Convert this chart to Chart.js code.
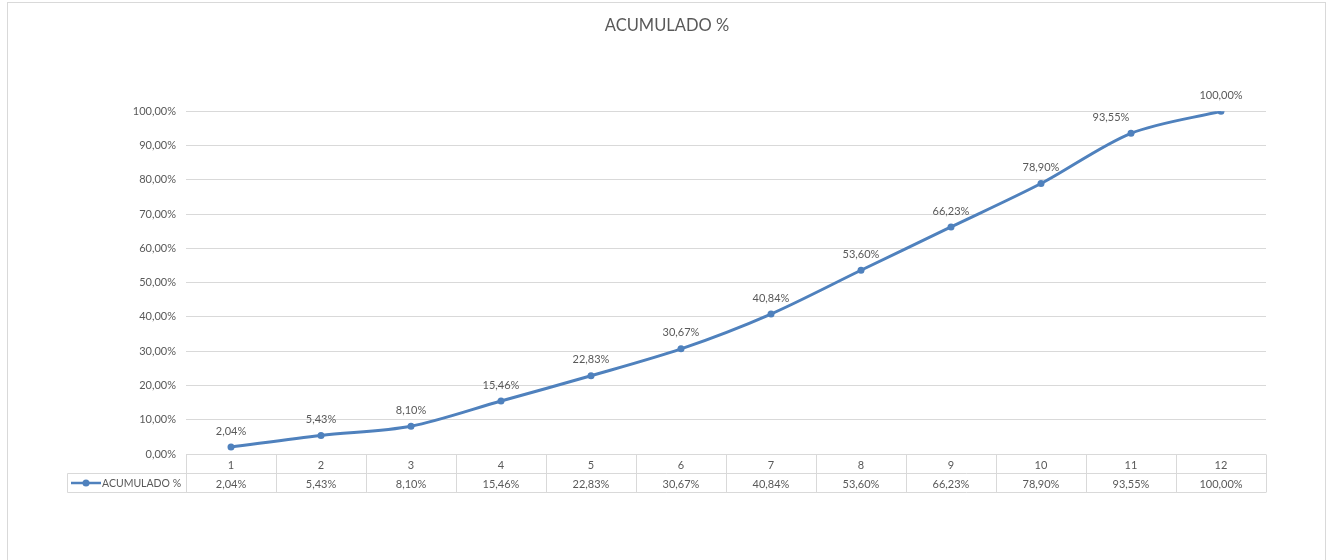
<!DOCTYPE html>
<html>
<head>
<meta charset="utf-8">
<script src="https://cdn.jsdelivr.net/npm/chart.js@4/dist/chart.umd.min.js"></script>
<style>
html,body{margin:0;padding:0;background:#fff;}
#wrap{width:1329px;height:560px;position:relative;}
</style>
</head>
<body>
<div id="wrap"><canvas id="c" width="1329" height="560"></canvas></div>
<script>
const categories = ['1','2','3','4','5','6','7','8','9','10','11','12'];
const seriesName = 'ACUMULADO %';
const chartTitle = 'ACUMULADO %';
const values = [2.04, 5.43, 8.10, 15.46, 22.83, 30.67, 40.84, 53.60, 66.23, 78.90, 93.55, 100.00];
const yTicks = [0,10,20,30,40,50,60,70,80,90,100];

const FONT = 'Lato, "Open Sans", sans-serif';
const TXT = '#595959';
const GRID = '#d9d9d9';
const BLUE = '#4f81bd';
const fmt = v => v.toFixed(2).replace('.', ',') + '%';

const extras = {
  id: 'extras',
  beforeDraw(chart) {
    const ctx = chart.ctx;
    ctx.save();
    ctx.fillStyle = '#fff';
    ctx.fillRect(0, 0, chart.width, chart.height);
    ctx.strokeStyle = '#d9d9d9';
    ctx.lineWidth = 1;
    ctx.strokeRect(7.5, 2.5, 1318, 620);
    // title
    ctx.fillStyle = TXT;
    ctx.font = '16.5px ' + FONT;
    ctx.textAlign = 'center';
    ctx.textBaseline = 'middle';
    ctx.fillText(chartTitle, 667, 26);
    ctx.restore();
  },
  afterDatasetsDraw(chart) {
    const ctx = chart.ctx;
    const meta = chart.getDatasetMeta(0);
    const ca = chart.chartArea;
    const x = chart.scales.x;
    ctx.save();
    // data labels (label next to a steep rising segment is nudged left, like the original)
    ctx.font = '11px ' + FONT;
    ctx.fillStyle = TXT;
    ctx.textAlign = 'center';
    ctx.textBaseline = 'middle';
    meta.data.forEach((p, i) => {
      const dx = (i === meta.data.length - 2) ? -20 : 0;
      ctx.fillText(fmt(values[i]), p.x + dx, p.y - 16);
    });
    // data table
    const n = categories.length;
    const colW = (ca.right - ca.left) / n;
    const r0 = Math.round(ca.bottom) + 0.5;
    const r1 = r0 + 19;
    const r2 = r1 + 19;
    const legL = 67.5;
    ctx.strokeStyle = GRID;
    ctx.lineWidth = 1;
    ctx.beginPath();
    ctx.moveTo(ca.left, r0); ctx.lineTo(ca.right, r0);
    ctx.moveTo(legL, r1); ctx.lineTo(ca.right, r1);
    ctx.moveTo(legL, r2); ctx.lineTo(ca.right, r2);
    ctx.moveTo(legL, r1); ctx.lineTo(legL, r2);
    for (let i = 0; i <= n; i++) {
      const xx = Math.round(ca.left + i * colW) + 0.5;
      ctx.moveTo(xx, r0); ctx.lineTo(xx, r2);
    }
    ctx.stroke();
    ctx.fillStyle = TXT;
    ctx.font = '11px ' + FONT;
    for (let i = 0; i < n; i++) {
      const cx = x.getPixelForValue(i);
      ctx.fillText(categories[i], cx, (r0 + r1) / 2 + 1);
      ctx.fillText(fmt(values[i]), cx, (r1 + r2) / 2 + 1);
    }
    // legend key
    const ly = (r1 + r2) / 2;
    ctx.strokeStyle = BLUE;
    ctx.lineWidth = 2.5;
    ctx.beginPath();
    ctx.moveTo(71, ly); ctx.lineTo(101, ly);
    ctx.stroke();
    ctx.fillStyle = BLUE;
    ctx.beginPath();
    ctx.arc(86, ly, 3.5, 0, Math.PI * 2);
    ctx.fill();
    ctx.fillStyle = TXT;
    ctx.font = '10.5px ' + FONT;
    ctx.textAlign = 'left';
    ctx.fillText(seriesName, 102, ly + 1);
    ctx.restore();
  }
};

new Chart(document.getElementById('c'), {
  type: 'line',
  data: {
    labels: categories,
    datasets: [{
      label: seriesName,
      data: values,
      borderColor: BLUE,
      backgroundColor: BLUE,
      borderWidth: 3,
      pointRadius: 3.5,
      pointBorderWidth: 0,
      pointBackgroundColor: BLUE,
      pointBorderColor: BLUE,
      tension: 0.3,
      fill: false
    }]
  },
  options: {
    responsive: false,
    animation: false,
    layout: { padding: { left: 0, right: 63, top: 0, bottom: 106 } },
    plugins: {
      legend: { display: false },
      tooltip: { enabled: false },
      title: {
        display: true,
        text: '',
        color: 'rgba(0,0,0,0)',
        font: { family: FONT, size: 16, weight: 'normal' },
        padding: { top: 16, bottom: 76 }
      }
    },
    scales: {
      x: {
        type: 'category',
        offset: true,
        display: false
      },
      y: {
        min: 0, max: 100,
        afterFit(s) { s.width = 186; },
        afterBuildTicks(s) { s.ticks = yTicks.map(v => ({ value: v })); },
        border: { display: false },
        grid: { color: GRID, drawTicks: false, lineWidth: 1 },
        ticks: {
          color: TXT,
          font: { family: FONT, size: 11 },
          padding: 10,
          callback: v => fmt(v)
        }
      }
    }
  },
  plugins: [extras]
});
</script>
</body>
</html>
